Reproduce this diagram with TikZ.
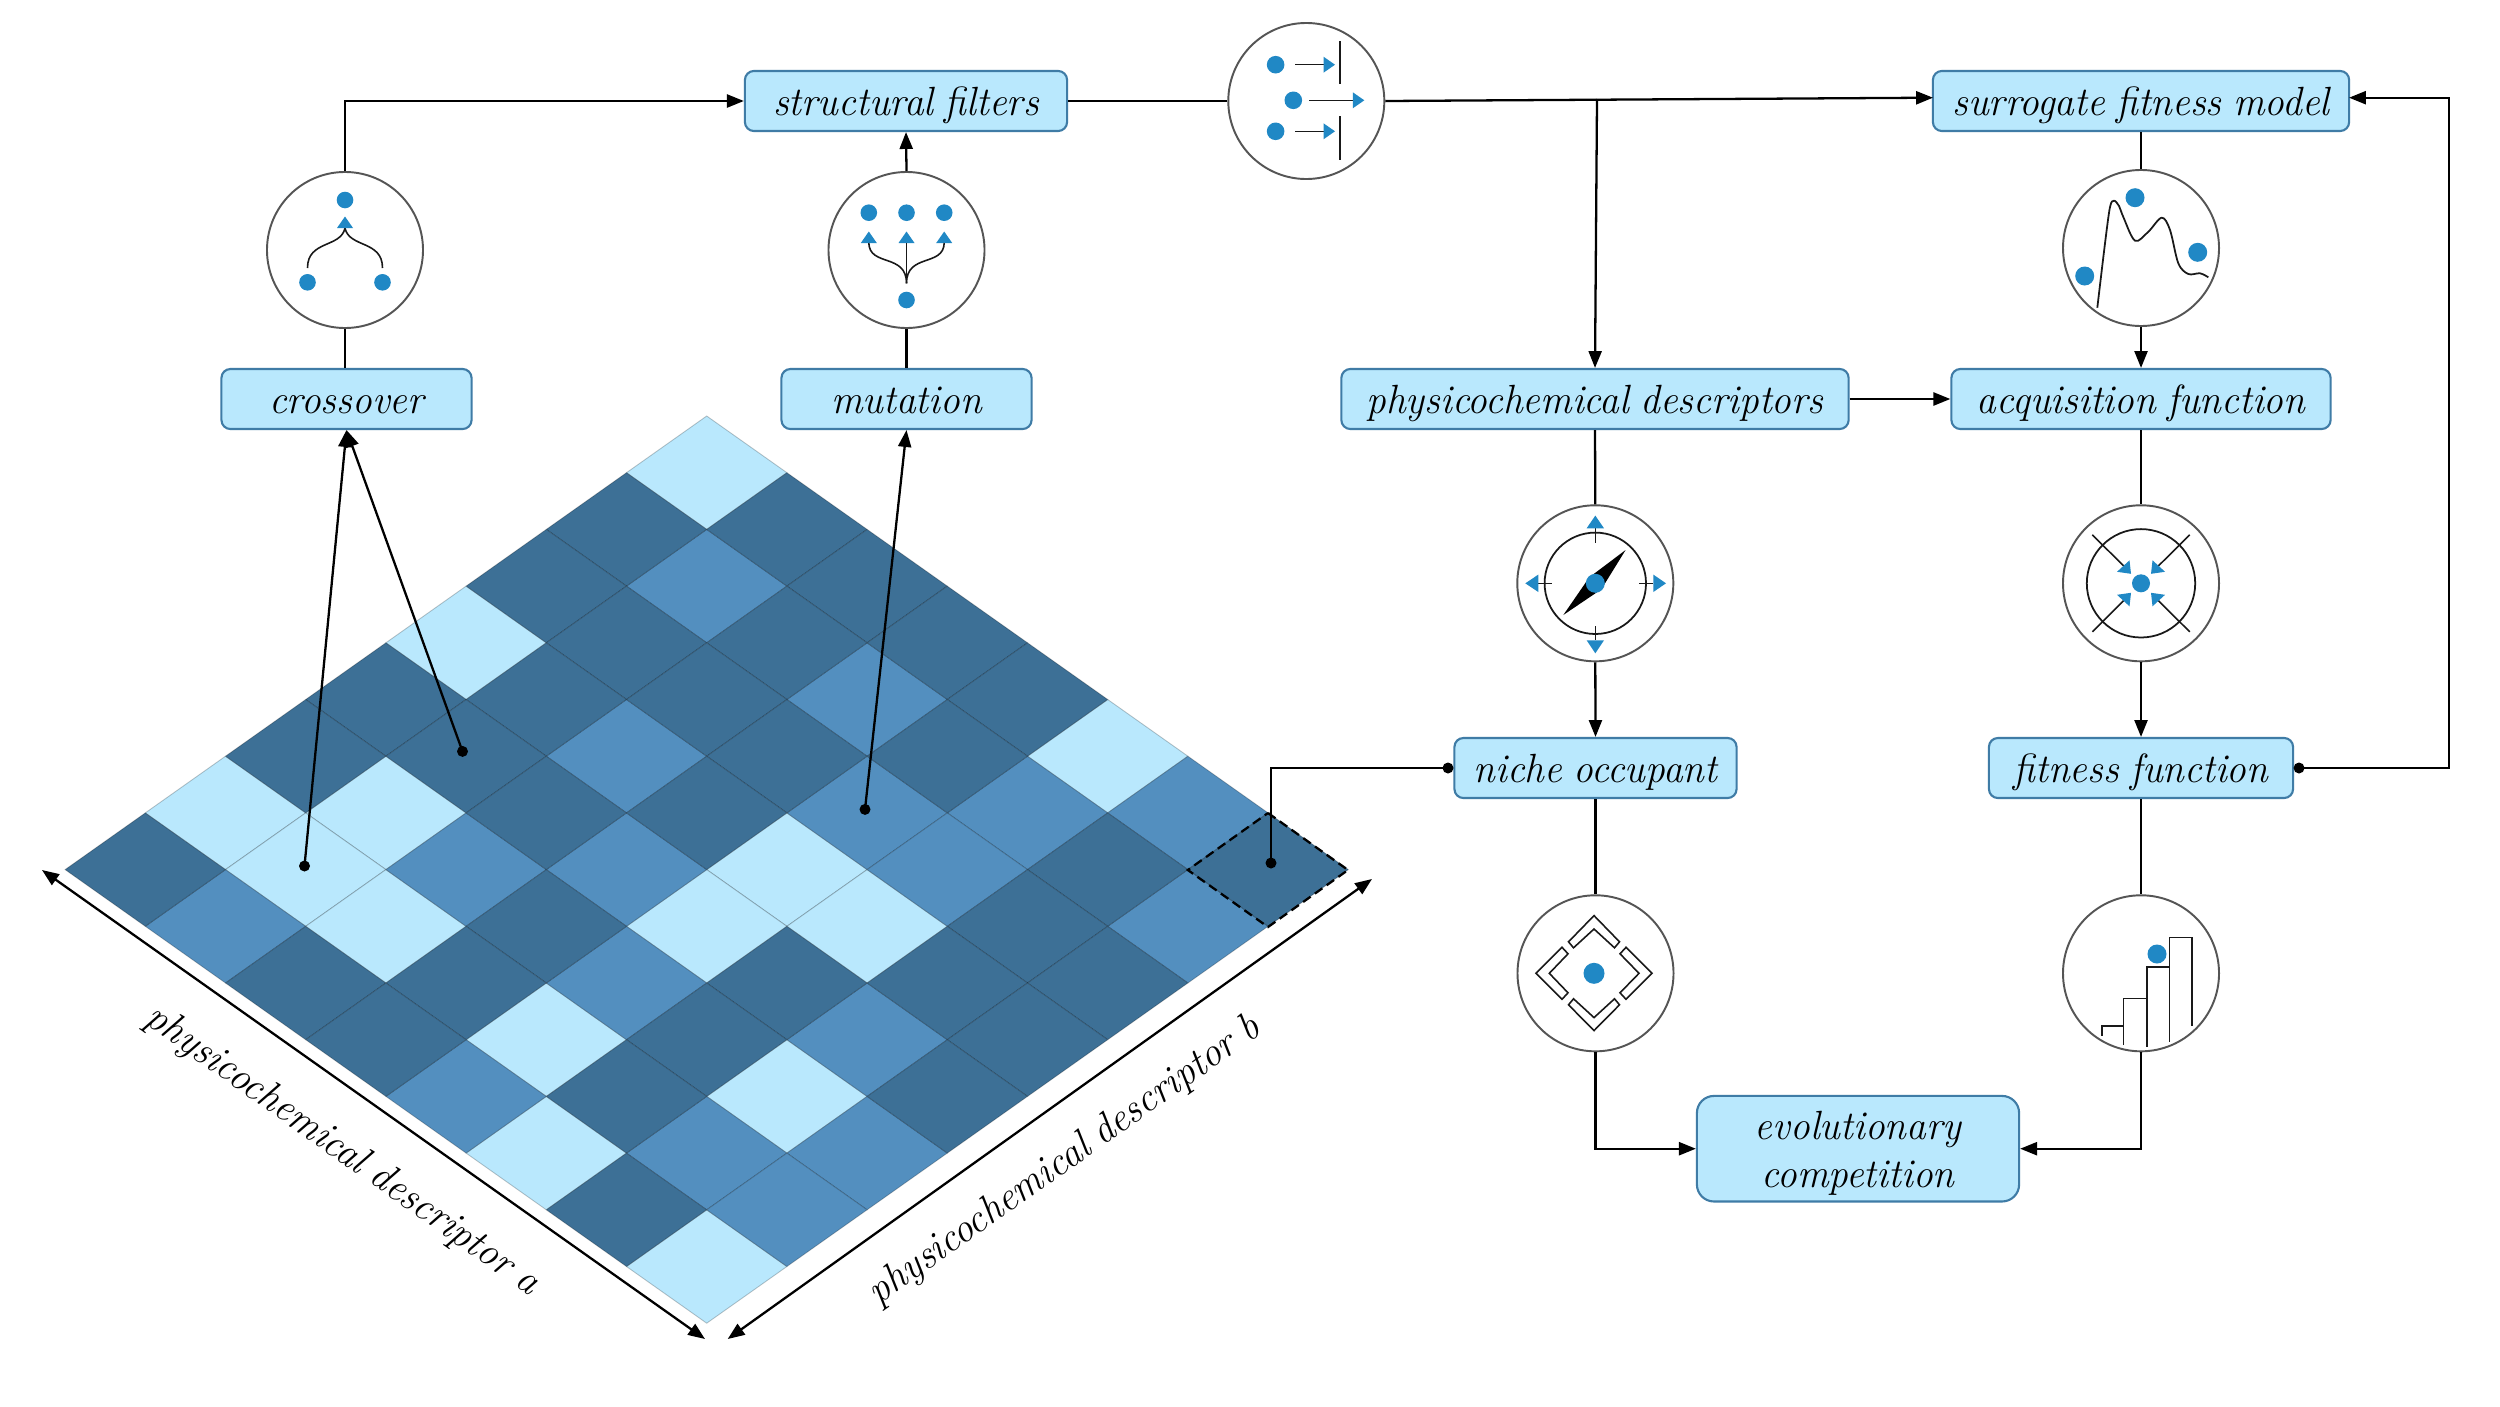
\documentclass[tikz,border=0pt]{standalone}
\usetikzlibrary{arrows.meta,calc}
\definecolor{boxfill}{HTML}{B9E8FD}
\definecolor{boxedge}{HTML}{3F7CA6}
\definecolor{midcell}{HTML}{538FBF}
\definecolor{darkcell}{HTML}{3D7096}
\definecolor{iconblue}{HTML}{2088C5}
\definecolor{ringgray}{HTML}{555555}
\newcommand{\tx}[2][-4.2pt]{\raisebox{#1}[0pt][0pt]{\scalebox{.965}[1]{\spaceskip=.29em\relax #2}}}
\tikzset{
  px/.style={x=.01cm,y=-.01cm},
  labelbox/.style={draw=boxedge,fill=boxfill,line width=.6pt,rounded corners=.09cm,inner sep=0pt,align=center,font=\fontsize{11.6}{13.4}\selectfont\itshape},
  axislabel/.style={font=\fontsize{11.6}{13.4}\selectfont\itshape},
  ring/.style={circle,draw=ringgray,fill=white,line width=.55pt,minimum size=.0156*100cm,inner sep=0pt},
  conn/.style={line width=.65pt,black},
  arr/.style={conn,-{Triangle[length=4.8pt,width=3.7pt]}},
  griddot/.style={circle,fill=black,inner sep=0pt,minimum size=.11cm},
  bluedot/.style={fill=iconblue},
  icon/.style={line width=.45pt,black!90},
  cellline/.style={draw=black,draw opacity=.22,line width=.25pt},
}
\newcommand{\gridcell}[3]{%
  \path[cellline,fill=#3] ({706.7+(#1)*80.2},{416+(#2)*56.7}) -- ++(80.2,56.7) -- ++(-80.2,56.7) -- ++(-80.2,-56.7) -- cycle;}
\newcommand{\upTri}[2]{\fill[iconblue] (#1,#2) -- ++(8,11.5) -- ++(-16,0) -- cycle;}
\newcommand{\rightTri}[2]{\fill[iconblue] (#1,#2) -- ++(-11.5,8) -- ++(0,-16) -- cycle;}
\begin{document}
\begin{tikzpicture}[px]
\fill[white] (0,0) rectangle (2500,1406);
\path[use as bounding box] (0,0) rectangle (2500,1406);

% grid
\foreach \k/\s in {0/0,-3/3,5/5,-6/6,-4/6,-5/7,1/7,-4/8,0/8,2/8,-2/10,1/11,-2/12,0/14} {\gridcell{\k}{\s}{boxfill}}
\foreach \k/\s in {0/2,2/4,-1/5,2/6,4/6,6/6,-3/7,-1/7,3/7,-6/8,6/8,-1/9,2/10,-3/11,0/12,2/12,1/13} {\gridcell{\k}{\s}{midcell}}
\foreach \k/\s in {-1/1,1/1,-2/2,2/2,-1/3,1/3,3/3,-4/4,-2/4,0/4,4/4,-5/5,-3/5,1/5,3/5,-2/6,0/6,-7/7,5/7,7/7,-2/8,4/8,-5/9,-3/9,1/9,3/9,5/9,-4/10,0/10,4/10,-1/11,3/11,-1/13} {\gridcell{\k}{\s}{darkcell}}
\draw[black,line width=.65pt,dash pattern=on 2.6pt off 1.5pt] (1268,813) -- (1348,870) -- (1268,927) -- (1187.8,870) -- cycle;

% axes
\coordinate (axa1) at (42,870);
\coordinate (axa2) at (705,1339);
\coordinate (axb1) at (727.7,1339);
\coordinate (axb2) at (1372,879);
\draw[conn,{Triangle[length=4.8pt,width=3.7pt]}-{Triangle[length=4.8pt,width=3.7pt]}] (axa1) -- (axa2);
\draw[conn,{Triangle[length=4.8pt,width=3.7pt]}-{Triangle[length=4.8pt,width=3.7pt]}] (axb1) -- (axb2);
\node[rotate=-35.3,axislabel] (labela) at (342,1151) {\tx[-2.8pt]{physicochemical descriptor a}};
\node[rotate=35.3,axislabel] (labelb) at (1065,1161) {\tx[-2.8pt]{physicochemical descriptor b}};

% boxes
\node[labelbox,minimum width=3.22cm,minimum height=.6cm] (structural) at (906,101) {\tx{structural filters}};
\node[labelbox,minimum width=4.16cm,minimum height=.6cm] (surrogate) at (2141,101) {\tx{surrogate fitness model}};
\node[labelbox,minimum width=2.5cm,minimum height=.6cm] (crossover) at (346.5,399) {\tx{crossover}};
\node[labelbox,minimum width=2.5cm,minimum height=.6cm] (mutation) at (906.5,399) {\tx{mutation}};
\node[labelbox,minimum width=5.07cm,minimum height=.6cm] (physico) at (1595,399) {\tx{physicochemical descriptors}};
\node[labelbox,minimum width=3.79cm,minimum height=.6cm] (acquisition) at (2141,399) {\tx{acquisition function}};
\node[labelbox,minimum width=2.82cm,minimum height=.6cm] (niche) at (1595.5,768) {\tx{niche occupant}};
\node[labelbox,minimum width=3.04cm,minimum height=.6cm] (fitness) at (2141,768) {\tx{fitness function}};
\node[labelbox,rounded corners=.17cm,minimum width=3.22cm,minimum height=1.055cm] (evolution) at (1858,1148.7) {\tx{evolutionary}\\\tx{competition}};

% rings
\node[ring] (rcross) at (345,250) {};
\node[ring] (rmut) at (906.5,250) {};
\node[ring] (rfilter) at (1306.3,101) {};
\node[ring] (rsurr) at (2141,248) {};
\node[ring] (rcompass) at (1595.3,583.3) {};
\node[ring] (rconv) at (2141,583.3) {};
\node[ring] (rniche) at (1595.5,973.3) {};
\node[ring] (rstair) at (2141,973.3) {};

% dots
\node[griddot] (dotA) at (304.5,866) {};
\node[griddot] (dotB) at (462.5,751.4) {};
\node[griddot] (dotC) at (865,809.4) {};
\node[griddot] (dotD) at (1271,863) {};
\node[griddot] (dotN) at (1448,768) {};
\node[griddot] (dotF) at (2299,768) {};
\coordinate (branch) at (1597,99);
\coordinate (loop) at (2449,97.7);
\coordinate (surrW) at (1933,97.7);
\coordinate (surrE) at (2349,97.7);

% connectors
\draw[arr] (rcross.north) |- (structural.west);
\draw[conn] (rcross.south) -- (rcross.south |- crossover.north);
\draw[arr] (rmut.north) -- (structural.south);
\draw[conn] (mutation.north) -- (rmut.south);
\draw[conn] (structural.east) -- (rfilter.west);
\draw[arr] (rfilter.east) -- (surrW);
\draw[arr] (branch) -- (physico.north);
\draw[conn] (surrogate.south) -- (rsurr.north);
\draw[arr] (rsurr.south) -- (acquisition.north);
\draw[arr] (physico.east) -- (acquisition.west);
\draw[conn] (physico.south) -- (rcompass.north);
\draw[arr] (rcompass.south) -- (niche.north);
\draw[conn] (acquisition.south) -- (rconv.north);
\draw[arr] (rconv.south) -- (fitness.north);
\draw[conn] (niche.south) -- (rniche.north);
\draw[conn] (fitness.south) -- (rstair.north);
\draw[arr] (rniche.south) |- (evolution.west);
\draw[arr] (rstair.south) |- (evolution.east);
\draw[arr] (dotF.center) -| (loop) -- (surrE);
\draw[conn] (dotD.center) |- (dotN.center);
\draw[arr] (dotA.center) -- (crossover.south);
\draw[arr] (dotB.center) -- (crossover.south);
\draw[arr] (dotC.center) -- (mutation.south);

% crossover icon
\begin{scope}[shift={(rcross.center)}]
  \fill[bluedot] (0,-50) circle (8.3);
  \fill[bluedot] (-37.5,32.3) circle (8.3);
  \fill[bluedot] (37.5,32.3) circle (8.3);
  \draw[icon] (-37.5,18) .. controls (-37.5,-10) and (-4,-2) .. (0,-22);
  \draw[icon] (37.5,18) .. controls (37.5,-10) and (4,-2) .. (0,-22);
  \upTri{0}{-33.5}
\end{scope}

% mutation icon
\begin{scope}[shift={(rmut.center)}]
  \foreach \x in {-37.7,0,37.7} {\fill[bluedot] (\x,-37.3) circle (8.3); \upTri{\x}{-18.5}}
  \fill[bluedot] (0,50) circle (8.3);
  \draw[icon] (0,33.3) -- (0,-7);
  \draw[icon] (0,33.3) .. controls (0,3) and (-37,17) .. (-37.7,-7);
  \draw[icon] (0,33.3) .. controls (0,3) and (37,17) .. (37.7,-7);
\end{scope}

% filter icon
\begin{scope}[shift={(rfilter.center)}]
  \fill[bluedot] (-30.7,-36.3) circle (8.8);
  \fill[bluedot] (-13,-.7) circle (8.8);
  \fill[bluedot] (-30.7,30.3) circle (8.8);
  \draw[icon] (-11.3,-36.3) -- (18,-36.3);
  \draw[icon] (3,-.7) -- (47,-.7);
  \draw[icon] (-11.3,30.3) -- (18,30.3);
  \rightTri{28.7}{-36.3}
  \rightTri{58}{-.7}
  \rightTri{28.7}{30.3}
  \draw[icon] (33.7,-59.7) -- (33.7,-17.3);
  \draw[icon] (33.7,15.3) -- (33.7,58.7);
\end{scope}

% surrogate icon
\begin{scope}[shift={(rsurr.center)}]
  \draw[icon,line width=.5pt,smooth,tension=.55] plot coordinates {(-43.7,59.7) (-36,-4.7) (-31,-41) (-27,-47.3) (-22,-42) (-17.7,-31) (-6,-7.3) (7.3,-16.3) (20.7,-30.3) (29,-18) (37.3,15.3) (47.3,26) (59,25.3) (67.3,29.3)};
  \fill[bluedot] (-6,-50.3) circle (9.5);
  \fill[bluedot] (56.7,4.3) circle (9.5);
  \fill[bluedot] (-56.3,28) circle (9.5);
\end{scope}

% compass icon
\begin{scope}[shift={(rcompass.center)}]
  \draw[icon,line width=.5pt] (0,0) circle (50.7);
  \draw[icon] (0,-55) -- (0,-40.7);
  \draw[icon] (0,43) -- (0,57);
  \draw[icon] (44,0) -- (58,0);
  \draw[icon] (-57,0) -- (-43,0);
  \fill[iconblue] (0,-67.7) -- (8.7,-55) -- (-8.7,-55) -- cycle;
  \fill[iconblue] (0,70) -- (8.7,57) -- (-8.7,57) -- cycle;
  \fill[iconblue] (70.7,0) -- (58,8.7) -- (58,-8.7) -- cycle;
  \fill[iconblue] (-70,0) -- (-57,8.7) -- (-57,-8.7) -- cycle;
  \fill[black] (30.3,-33.3) -- (6,6) -- (-32,31.7) -- (-6,-6) -- cycle;
  \fill[bluedot] (0,0) circle (9.5);
\end{scope}

% converge icon
\begin{scope}[shift={(rconv.center)}]
  \draw[icon,line width=.5pt] (0,0) circle (54.2);
  \foreach \sx/\sy in {1/1,1/-1,-1/1,-1/-1} {
    \draw[icon] ({\sx*48.7},{\sy*48.5}) -- ({\sx*16},{\sy*16});
    \fill[iconblue] ({\sx*10},{\sy*9.5}) -- ({\sx*24},{\sy*11.5}) -- ({\sx*11.5},{\sy*23}) -- cycle;
  }
  \fill[bluedot] (0,0) circle (9);
\end{scope}

% niche icon
\begin{scope}[shift={(1594,973.3)}]
  \fill[bluedot] (0,0) circle (10.5);
  \draw[icon] (0,-57.7) -- (-25.5,-31.5) -- (-20.5,-25.5) -- (0,-44.3) -- (20.5,-25.5) -- (25.5,-31.5) -- cycle;
  \draw[icon] (0,57.3) -- (-25.5,31.5) -- (-20.5,25.5) -- (0,44.3) -- (20.5,25.5) -- (25.5,31.5) -- cycle;
  \draw[icon] (-58,0) -- (-32,-26) -- (-26,-19.5) -- (-44.7,0) -- (-26,19.5) -- (-32,26) -- cycle;
  \draw[icon] (58,0) -- (32,-26) -- (26,-19.5) -- (45,0) -- (26,19.5) -- (32,26) -- cycle;
\end{scope}

% stair icon
\begin{scope}[shift={(rstair.center)}]
  \draw[icon] (-39.3,62.3) |- (-17.7,52.7);
  \draw[icon] (-17.7,71.7) |- (6,25);
  \draw[icon] (6,73.3) |- (28.3,-6.3);
  \draw[icon] (28.3,68.3) |- (51,-35.7) -- (51,52.7);
  \fill[bluedot] (16,-19.3) circle (9.5);
\end{scope}
\end{tikzpicture}
\end{document}
